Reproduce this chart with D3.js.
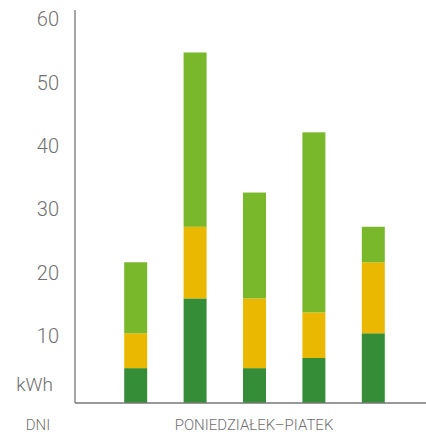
<!DOCTYPE html>
<html>
<head>
<meta charset="utf-8">
<script src="https://cdn.jsdelivr.net/npm/d3@7"></script>
<style>
  body { margin: 0; background: #fff; }
  text { font-family: Roboto, "Open Sans", sans-serif; font-weight: 300; fill: #6f6f6f; }
</style>
</head>
<body>
<svg></svg>
<script>
// Size of the picture
let width = 426
let height = 434

// Data (kWh)
let days = ['1', '2', '3', '4', '5']
let darkGreen = [5.5, 16.5, 5.5, 7.1, 11.0]
let yellow = [5.5, 11.3, 11.0, 7.2, 11.2]
let lightGreen = [11.2, 27.5, 16.7, 28.4, 5.6]
let yTicks = [10, 20, 30, 40, 50, 60]

let seriesKeys = ['dark', 'yellow', 'light']
let colors = ['#358e37', '#ebb800', '#78b82a']

let table = days.map((d, i) => ({
    day: d, dark: darkGreen[i], yellow: yellow[i], light: lightGreen[i]
}))

let svg = d3.select('svg')
            .attr('width', width)
            .attr('height', height)

// Scales
let xScale = d3.scaleBand()
                .domain(days)
                .range([106, 403])
                .paddingInner(0.613)
                .paddingOuter(0.3065)

let yScale = d3.scaleLinear()
                .domain([0, 62])
                .range([403, 10])

// Stacked bars
let stacked = d3.stack().keys(seriesKeys)(table)

svg.selectAll('g.layer')
    .data(stacked)
    .enter()
    .append('g')
    .attr('class', 'layer')
    .attr('fill', (d, i) => colors[i])
    .selectAll('rect')
    .data(d => d)
    .enter()
    .append('rect')
    .attr('x', d => xScale(d.data.day))
    .attr('width', xScale.bandwidth())
    .attr('y', d => yScale(d[1]))
    .attr('height', d => yScale(d[0]) - yScale(d[1]))

// Axes: plain lines, labels without ticks
let yAxis = d3.axisLeft(yScale)
                .tickValues(yTicks)
                .tickSize(0)
                .tickPadding(16)
svg.append('g')
    .attr('id', 'y-axis')
    .attr('transform', 'translate(75, 0)')
    .call(yAxis)
    .call(g => g.select('.domain').remove())
    .call(g => g.selectAll('text')
        .attr('dy', '0.35em')
        .attr('y', -4)
        .style('font-size', '20px')
        .attr('fill', null))

svg.append('line')
    .attr('x1', 75).attr('x2', 75)
    .attr('y1', yScale(62)).attr('y2', yScale(0))
    .attr('stroke', '#777').attr('stroke-width', 1.3)

svg.append('line')
    .attr('x1', 75).attr('x2', width)
    .attr('y1', yScale(0)).attr('y2', yScale(0))
    .attr('stroke', '#777').attr('stroke-width', 1.3)

// Unit and axis titles
svg.append('text')
    .attr('x', 53).attr('y', 391)
    .attr('text-anchor', 'end')
    .style('font-size', '19px')
    .text('kWh')

svg.append('text')
    .attr('x', 38).attr('y', 430)
    .attr('text-anchor', 'middle')
    .style('font-size', '15px')
    .text('DNI')

svg.append('text')
    .attr('x', 254).attr('y', 430)
    .attr('text-anchor', 'middle')
    .style('font-size', '15px')
    .text('PONIEDZIAŁEK–PIATEK')
</script>
</body>
</html>
